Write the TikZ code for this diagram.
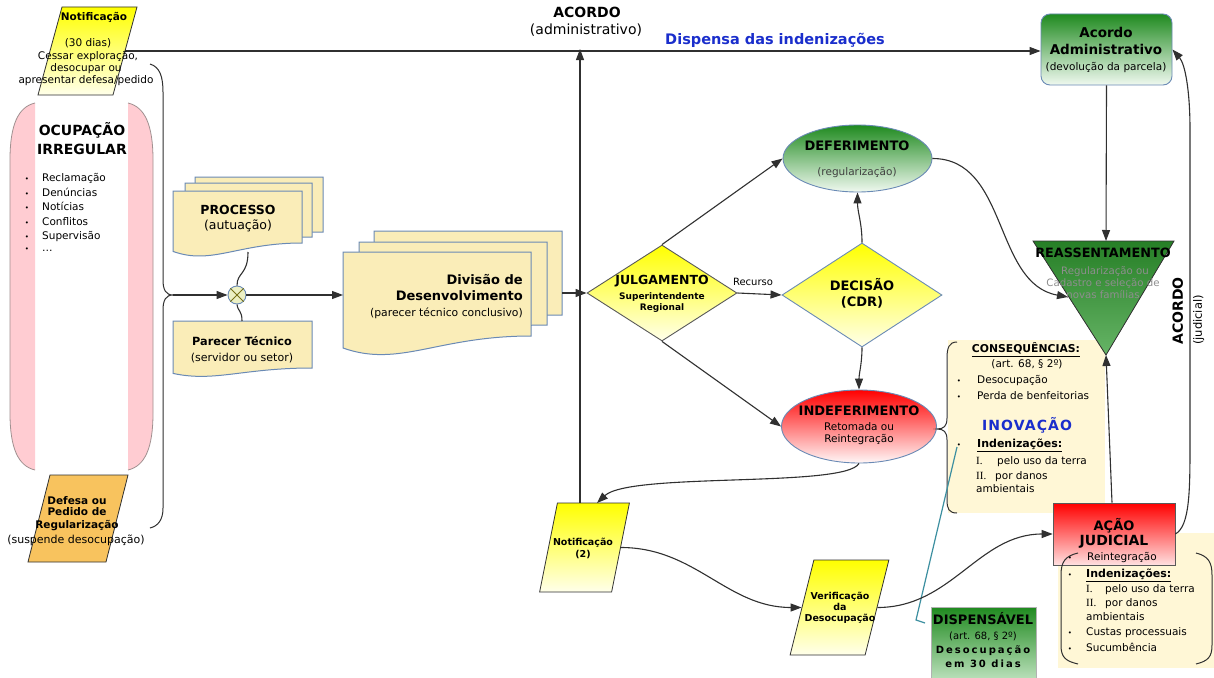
\documentclass[tikz,border=0pt]{standalone}
\usepackage{fontspec}
\setmainfont{DejaVu Sans}
\newfontfamily\serifnum{Liberation Serif}
\usetikzlibrary{shapes.geometric,arrows.meta,calc}
\definecolor{docfill}{HTML}{FAEDB8}
\definecolor{docline}{HTML}{6A8AB5}
\definecolor{pinkf}{HTML}{FFCCD2}
\definecolor{pinkline}{HTML}{A09090}
\definecolor{orangef}{HTML}{F8C35E}
\definecolor{cream}{HTML}{FFF7D6}
\definecolor{dgreen}{HTML}{1F8A1F}
\definecolor{lgreen}{HTML}{F0F9F0}
\definecolor{trigreen}{HTML}{267F26}
\definecolor{trilight}{HTML}{66B466}
\definecolor{teal1}{HTML}{3C8FA0}
\definecolor{blueT}{HTML}{1A2ECC}
\definecolor{lineC}{HTML}{303030}
\definecolor{grayT}{HTML}{8E8E8E}
\newcommand\fr[1]{\fontsize{#1}{#1}\selectfont}
\newcommand\fb[1]{\fontsize{#1}{#1}\selectfont\bfseries}
\newcounter{tnode}
\newcommand\tx[4][]{\stepcounter{tnode}\node[txs,#1] (t\arabic{tnode}) at (#2,#3) {#4};}
\newcommand\bul[2]{\tx[font=\fr{7}]{#1}{#2}{\textbullet}}
\newcommand\docsh[5]{%
  \pgfmathsetmacro\dw{#3-#1}%
  \filldraw[docst] (#1,#2) -- (#3,#2) -- (#3,#4) .. controls ({#3-0.5*\dw},#4) and ({#1+0.3*\dw},{#4+1.6*#5}) .. (#1,{#4+0.6*#5}) -- cycle;}
\begin{document}
\begin{tikzpicture}[x=1pt,y=-1pt,
  con/.style={draw=lineC,line width=1.1pt},
  arr/.style={con,-{Triangle[length=11pt,width=8pt]}},
  txs/.style={anchor=mid,inner sep=0pt,font=\fr{10.5}},
  docst/.style={fill=docfill,draw=docline,line width=1pt},
  para/.style={rectangle,inner sep=0pt,draw=lineC,line width=0.8pt},
  yel/.style={top color=yellow,bottom color=yellow!8},
]
\useasboundingbox (0,0) rectangle (1214,677);
\fill[white] (0,0) rectangle (1214,677);

% ---------- left column ----------
\fill[pinkf] (35,103) .. controls (18,107) and (10,125) .. (10,160) -- (10,413) .. controls (10,448) and (18,466) .. (35,470) -- cycle;
\draw[pinkline,line width=0.8pt] (35,103) .. controls (18,107) and (10,125) .. (10,160) -- (10,413) .. controls (10,448) and (18,466) .. (35,470);
\fill[pinkf] (128,103) .. controls (145,107) and (153,125) .. (153,160) -- (153,413) .. controls (153,448) and (145,466) .. (128,470) -- cycle;
\draw[pinkline,line width=0.8pt] (128,103) .. controls (145,107) and (153,125) .. (153,160) -- (153,413) .. controls (153,448) and (145,466) .. (128,470);

\node[para,yel,xslant=0.273,minimum width=75pt,minimum height=88pt] (notif) at (87.5,51) {};
\node[para,fill=orangef,xslant=0.253,minimum width=78pt,minimum height=87pt] (defesa) at (78,518.5) {};

\draw[con,line width=1pt] (150,64) .. controls (160,67) and (163,77) .. (163,92) -- (163,280) .. controls (163,290) and (166,295) .. (173,295) .. controls (166,295) and (163,300) .. (163,310) -- (163,508) .. controls (163,520) and (158,526) .. (150,528);
\coordinate (braceTip) at (173,295);

% ---------- documents ----------
\docsh{195}{177}{323}{232}{10}
\docsh{185}{183}{312}{237}{12}
\docsh{173}{191}{302}{243}{14}
\docsh{173}{321}{312}{368}{9}
\docsh{374}{231}{562}{315}{14}
\docsh{359}{242}{547}{325}{17}
\docsh{343}{252}{531}{336}{20}
\coordinate (procBot) at (248,252);
\coordinate (parecTop) at (242,321);
\coordinate (divL) at (343,295);
\coordinate (divR) at (562,293);
\node[circle,draw=docline,fill={rgb,255:red,236;green,240;blue,196},minimum size=18pt,inner sep=0pt,line width=0.9pt] (mix) at (237,295) {};
\draw[olive!80!black,line width=1pt] (mix.north west) -- (mix.south east) (mix.north east) -- (mix.south west);

% ---------- decisions ----------
\node[diamond,yel,draw=lineC!80,line width=0.9pt,minimum width=150pt,minimum height=96pt,inner sep=0pt] (julg) at (662,293) {};
\node[diamond,yel,draw=docline,line width=0.9pt,minimum width=160pt,minimum height=104pt,inner sep=0pt] (dec) at (862,295) {};
\node[ellipse,top color=dgreen,bottom color=lgreen,draw=docline,line width=0.9pt,minimum width=149pt,minimum height=67pt,inner sep=0pt] (def) at (857.5,158.5) {};
\node[ellipse,top color=red,bottom color=red!3,draw=docline,line width=0.9pt,minimum width=155pt,minimum height=73pt,inner sep=0pt] (indef) at (859,426.5) {};

\node[para,yel,xslant=0.2,minimum width=72pt,minimum height=89pt] (n2) at (584.5,547.5) {};
\node[para,yel,xslant=0.25,minimum width=75pt,minimum height=95pt] (verif) at (839.5,607.5) {};

% ---------- right side ----------
\node[rectangle,rounded corners=9pt,top color=dgreen,bottom color=lgreen,draw=docline,line width=0.9pt,minimum width=131pt,minimum height=71pt,inner sep=0pt] (acAdm) at (1106.5,49.5) {};
\fill[cream] (948,340) rectangle (1105,513);
\draw[con,line width=1pt] (957,342) .. controls (949,342) and (947,348) .. (947,358) -- (947,418) .. controls (947,426) and (944,429) .. (937,429) .. controls (944,429) and (947,432) .. (947,440) -- (947,500) .. controls (947,509) and (949,513) .. (957,513);
\fill[cream] (1058,533) rectangle (1214,668);
\node[rectangle,top color=red,bottom color=red!12,draw=gray!70!black,line width=0.7pt,minimum width=122pt,minimum height=62pt,inner sep=0pt] (acj) at (1114,534) {};
\draw[con,line width=1pt] (1078,553) .. controls (1065,556) and (1061,562) .. (1061,575) -- (1061,645) .. controls (1061,657) and (1065,661) .. (1078,664);
\draw[con,line width=1pt] (1196,553) .. controls (1208,556) and (1212,562) .. (1212,575) -- (1212,645) .. controls (1212,657) and (1208,661) .. (1196,664);
\node[rectangle,top color=dgreen,bottom color={rgb,255:red,190;green,226;blue,190},draw=gray!60,line width=0.6pt,minimum width=105pt,minimum height=74pt,inner sep=0pt] (disp) at (983.5,644) {};
\filldraw[top color=trigreen,bottom color=trilight,draw=black!80,line width=0.8pt] (1033,241) -- (1174,241) -- (1106,355) -- cycle;
\coordinate (reasTop) at (1106,241);
\coordinate (reasTip) at (1106,355);
\coordinate (reasL) at (1068,297);
\draw[teal1,line width=1.2pt] (957,447) -- (916,620) -- (925,623);

% ---------- connectors ----------
\draw[arr] (notif.east) -- (notif.east -| acAdm.west);
\draw[arr] (n2.north -| 580,0) -- (580,49);
\draw[con] (procBot) .. controls (248,275) and (237,272) .. (mix.north);
\draw[con] (mix.south) .. controls (238,312) and (242,310) .. (parecTop);
\draw[arr] (braceTip) -- (mix.west);
\draw[arr] (mix.east) -- (divL);
\draw[arr] (divR) -- (julg.west);
\draw[arr] (julg.east) -- (dec.west);
\draw[arr] (julg.north) -- (def.west);
\draw[arr] (julg.south) -- (indef.west);
\draw[arr] (dec.north) to[out=90,in=-90] (def.south);
\draw[arr] (dec.south) to[out=-90,in=90] (indef.north);
\draw[arr] (indef.south) .. controls (845,488) and (630,472) .. (597,503);
\draw[arr] (n2.east) to[out=0,in=180] (verif.west);
\draw[arr] (verif.east) to[out=0,in=180] (acj.west);
\draw[arr] ($(acj.north)+(-2,0)$) -- (reasTip);
\draw[arr] (acAdm.south) -- (reasTop);
\draw[arr] (def.east) to[out=0,in=170] (reasL);
\draw[arr] (acj.east) .. controls (1190,526) and (1190,490) .. (1190,440) -- (1190,130) .. controls (1190,90) and (1185,64) .. (acAdm.east);

% ---------- texts ----------
\tx[font=\fb{10.5}]{94}{18}{Notificação}
\tx{88}{44}{(30 dias)}
\tx{88}{57}{Cessar exploração,}
\tx{86}{69}{desocupar ou}
\tx{86}{81}{apresentar defesa/pedido}

\tx[font=\fb{14}]{82}{133}{OCUPAÇÃO}
\tx[font=\fb{14}]{82}{152}{IRREGULAR}
\foreach \yy/\tt in {179/Reclamação,194/Denúncias,208/Notícias,223/Conflitos,237/Supervisão,249/…}{
  \bul{27}{\yy}
  \tx[anchor=mid west]{42}{\yy}{\tt}
}
\tx[font=\fb{10.5}]{77}{502}{Defesa ou}
\tx[font=\fb{10.5}]{77}{513}{Pedido de}
\tx[font=\fb{10.5}]{77}{526}{Regularização}
\tx[font=\fr{11}]{76}{541}{(suspende desocupação)}

\tx[font=\fb{14}]{587}{15}{ACORDO}
\tx[font=\fr{14}]{586}{32}{(administrativo)}
\tx[font=\fb{14.5},text=blueT]{775}{42}{Dispensa das indenizações}

\tx[font=\fb{12.5}]{238}{212}{PROCESSO}
\tx[font=\fr{12.5}]{238}{227}{(autuação)}
\tx[font=\fb{11.3}]{242}{343}{Parecer Técnico}
\tx[font=\fr{11}]{242}{359}{(servidor ou setor)}
\tx[anchor=mid east,font=\fb{13}]{523}{282}{Divisão de}
\tx[anchor=mid east,font=\fb{13}]{523}{298}{Desenvolvimento}
\tx[anchor=mid east,font=\fr{10.8}]{523}{314}{(parecer técnico conclusivo)}

\tx[font=\fb{12.5}]{662}{282}{JULGAMENTO}
\tx[font=\fb{9}]{662}{297}{Superintendente}
\tx[font=\fb{9}]{662}{308}{Regional}
\tx[font=\fr{10}]{753}{283}{Recurso}
\tx[font=\fb{13}]{862}{288}{DECISÃO}
\tx[font=\fb{13}]{862}{304}{(CDR)}
\tx[font=\fb{13}]{857}{148}{DEFERIMENTO}
\tx[font=\fr{10.5},text=black!75]{857}{173}{(regularização)}
\tx[font=\fb{13}]{859}{413}{INDEFERIMENTO}
\tx{859}{428}{Retomada ou}
\tx{859}{440}{Reintegração}

\tx[font=\fb{9.5}]{583}{543}{Notificação}
\tx[font=\fb{9.5}]{583}{555}{(2)}
\tx[font=\fb{9.5}]{840}{597}{Verificação}
\tx[font=\fb{9.5}]{840}{608}{da}
\tx[font=\fb{9.5}]{840}{619}{Desocupação}

\tx[font=\fb{13.5}]{1106}{35}{Acordo}
\tx[font=\fb{13.5}]{1106}{52}{Administrativo}
\tx{1106}{68}{(devolução da parcela)}

\tx[font=\fb{12.8}]{1103}{255}{REASSENTAMENTO}
\tx[font=\fr{10.2},text=grayT]{1105}{272}{Regularização ou}
\tx[font=\fr{10.2},text=grayT]{1103}{284}{Cadastro e seleção de}
\tx[font=\fr{10.2},text=grayT]{1103}{296}{novas famílias}

\tx[font=\fb{14},rotate=90]{1180}{311}{ACORDO}
\tx[font=\fr{11.5},rotate=90]{1199}{320}{(judicial)}

\tx[font=\fb{10.8}]{1026}{350}{\underline{CONSEQUÊNCIAS:}}
\tx{1027}{365}{(art. 68, § 2º)}
\bul{959}{381}\tx[anchor=mid west]{977}{381}{Desocupação}
\bul{959}{397}\tx[anchor=mid west]{977}{397}{Perda de benfeitorias}
\tx[font={\fb{14}\addfontfeature{LetterSpace=8}},text=blueT]{1027}{428}{INOVAÇÃO}
\bul{959}{445}\tx[anchor=mid west,font=\fb{11}]{977}{445}{\underline{Indenizações:}}
\tx[anchor=mid west,font=\serifnum\fr{11}]{976}{462}{I.}
\tx[anchor=mid west]{997}{462}{pelo uso da terra}
\tx[anchor=mid west,font=\serifnum\fr{11}]{976}{477}{II.}
\tx[anchor=mid west]{995}{477}{por danos}
\tx[anchor=mid west]{976}{490}{ambientais}

\tx[font=\fb{13}]{1114}{528}{AÇÃO}
\tx[font=\fb{14}]{1114}{543}{JUDICIAL}
\bul{1070}{558}\tx[anchor=mid west]{1087}{558}{Reintegração}
\bul{1070}{575}\tx[anchor=mid west,font=\fb{11}]{1086}{575}{\underline{Indenizações:}}
\tx[anchor=mid west,font=\serifnum\fr{11}]{1086}{590}{I.}
\tx[anchor=mid west]{1105}{590}{pelo uso da terra}
\tx[anchor=mid west,font=\serifnum\fr{11}]{1086}{604}{II.}
\tx[anchor=mid west]{1105}{604}{por danos}
\tx[anchor=mid west]{1086}{618}{ambientais}
\bul{1070}{633}\tx[anchor=mid west]{1086}{633}{Custas processuais}
\bul{1070}{649}\tx[anchor=mid west]{1086}{649}{Sucumbência}

\tx[font=\fb{13}]{983}{622}{DISPENSÁVEL}
\tx[font=\fr{10}]{983}{637}{(art. 68, § 2º)}
\tx[font={\fb{10}\addfontfeature{LetterSpace=20}}]{983}{651}{Desocupação}
\tx[font={\fb{10}\addfontfeature{LetterSpace=20}}]{983}{665}{em 30 dias}
\end{tikzpicture}
\end{document}
